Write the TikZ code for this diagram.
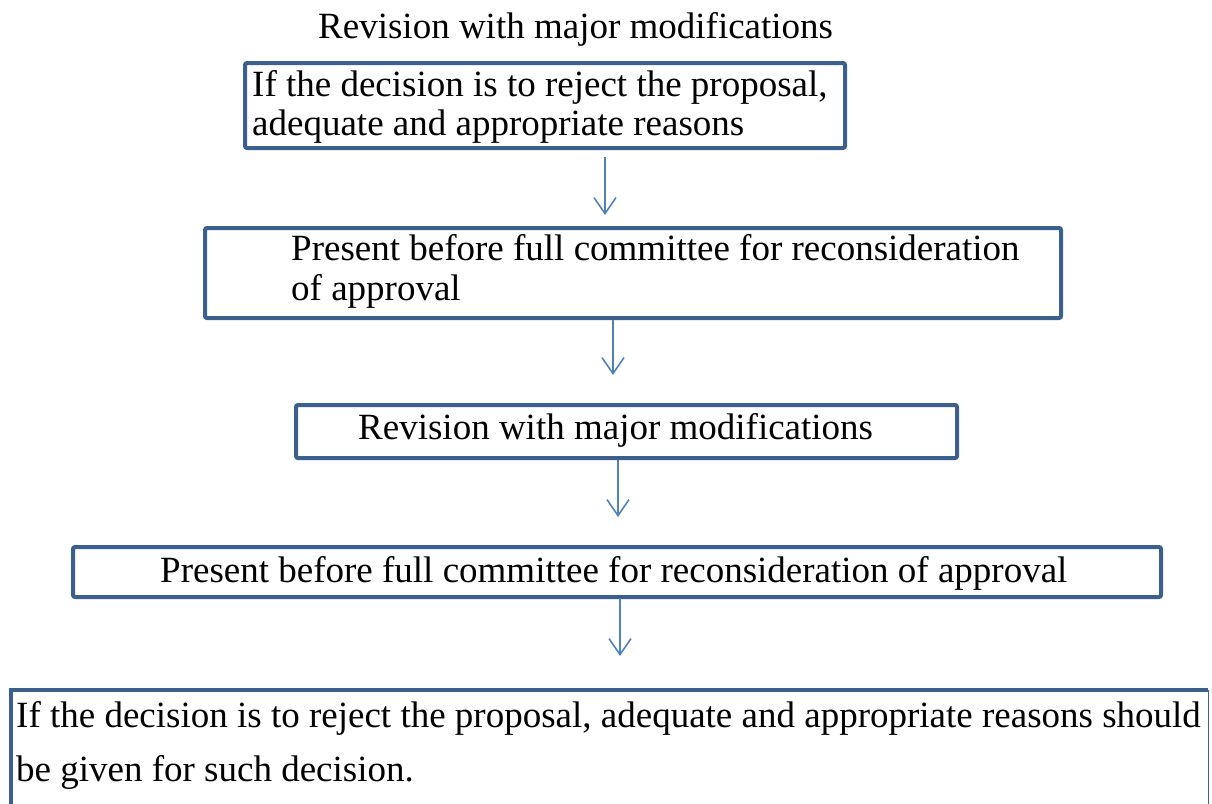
\documentclass[tikz,border=0pt]{standalone}
\usepackage{fontspec}
\setmainfont{Liberation Serif}
\usetikzlibrary{arrows.meta}
\definecolor{boxblue}{RGB}{60,96,141}
\definecolor{arrblue}{RGB}{79,129,189}
\tikzset{
  boxnode/.style={draw=boxblue, line width=4pt, rounded corners=2pt, fill=white, anchor=north west, inner sep=0pt},
  txt/.style={anchor=base west, inner sep=0pt, font=\fontsize{37}{40}\selectfont},
  arr/.style={draw=arrblue, line width=1.6pt, -{Straight Barb[length=16pt,width=22pt,line width=1.6pt]}}
}
\begin{document}
\begin{tikzpicture}[x=1pt,y=-1pt]
\useasboundingbox (0,0) rectangle (1212,803);
% boxes
\node[boxnode, minimum width=600pt, minimum height=85pt] (b1) at (243,61) {};
\node[boxnode, minimum width=856pt, minimum height=90pt] (b2) at (203,226) {};
\node[boxnode, minimum width=661pt, minimum height=53pt] (b3) at (294,403) {};
\node[boxnode, minimum width=1088pt, minimum height=50pt] (b4) at (71,545) {};
\node[anchor=north west, inner sep=0pt, minimum width=1197pt, minimum height=130pt] (b5) at (11,690) {};
\draw[boxblue, line width=4pt] (b5.south west) -- (b5.north west) -- (b5.north east);
\draw[boxblue, line width=1pt] (b5.north east) -- (b5.south east);
% texts
\node[txt] (t0) at (318,38) {Revision with major modifications};
\node[txt] (t1a) at (252,96) {If the decision is to reject the proposal,};
\node[txt] (t1b) at (252,135) {adequate and appropriate reasons};
\node[txt] (t2a) at (291,260) {Present before full committee for reconsideration};
\node[txt] (t2b) at (291,300) {of approval};
\node[txt] (t3) at (358,439) {Revision with major modifications};
\node[txt] (t4) at (160,582) {Present before full committee for reconsideration of approval};
\node[txt] (t5a) at (16,727) {If the decision is to reject the proposal, adequate and appropriate reasons should};
\node[txt] (t5b) at (16,781) {be given for such decision.};
% arrows
\coordinate (a1s) at (605,157); \coordinate (a1e) at (605,215);
\coordinate (a2s) at (613,320); \coordinate (a2e) at (613,375);
\coordinate (a3s) at (618,460); \coordinate (a3e) at (618,517);
\coordinate (a4s) at (620,598); \coordinate (a4e) at (620,656);
\draw[arr] (a1s) -- (a1e);
\draw[arr] (a2s) -- (a2e);
\draw[arr] (a3s) -- (a3e);
\draw[arr] (a4s) -- (a4e);
\end{tikzpicture}
\end{document}
